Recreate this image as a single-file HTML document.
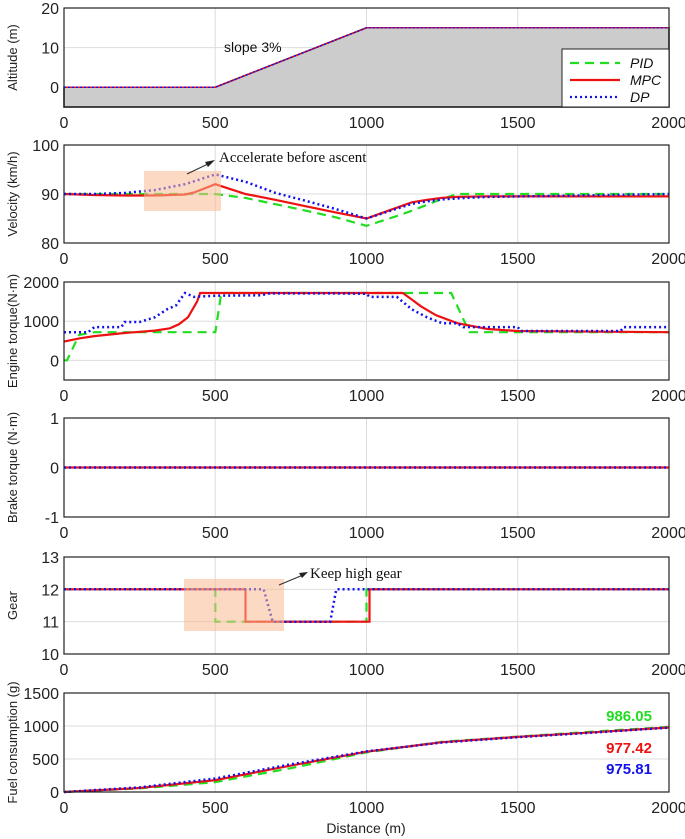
<!DOCTYPE html>
<html><head><meta charset="utf-8"><style>
body{margin:0;background:#fff}
svg{display:block}
text{font-family:"Liberation Sans",sans-serif}
</style></head><body>
<svg id="c" width="685" height="839" xmlns="http://www.w3.org/2000/svg"></svg>
<script>
const xTicks=[0,500,1000,1500,2000];
const altX=[0,500,1000,2000]; const altY=[0,0,15,15];
const velX=[0,100,200,300,400,430,500,600,700,800,900,1000,1100,1150,1200,1250,1300,1400,1600,1800,2000];
const velPID=[90,90,90,90,90,90,90,89.2,87.9,86.6,85.2,83.5,85.5,86.6,87.8,89,90,90,90,90,90];
const velMPC=[90,89.8,89.7,89.7,89.9,90.3,92,90,88.8,87.5,86.2,85,87.2,88.3,88.8,89.2,89.4,89.5,89.5,89.5,89.5];
const velDP=[90,90,90.2,90.8,92,92.6,94,92.5,90.2,88.6,86.9,85,87,88,88.5,88.9,89.1,89.4,89.6,89.8,90];
const engPIDx=[0,10,50,100,500,520,1280,1340,2000];
const engPIDy=[0,0,650,720,720,1720,1720,720,720];
const engMPCx=[0,50,100,200,300,350,380,410,440,450,1120,1150,1180,1230,1300,1400,1500,2000];
const engMPCy=[480,560,620,700,760,820,920,1100,1500,1720,1720,1550,1380,1150,950,800,750,720];
const engDPx=[0,80,100,190,200,250,300,340,370,400,430,500,650,680,900,1000,1010,1100,1150,1200,1250,1300,1320,1500,1510,1840,1850,2000];
const engDPy=[720,720,850,850,980,980,1100,1300,1400,1720,1620,1650,1660,1710,1710,1700,1620,1620,1300,1100,950,950,850,850,750,750,850,850];
const brkX=[0,2000]; const brkY=[0,0];
const gearPIDx=[0,500,500,1000,1000,2000]; const gearPIDy=[12,12,11,11,12,12];
const gearMPCx=[0,600,600,1010,1010,2000]; const gearMPCy=[12,12,11,11,12,12];
const gearDPx=[0,660,690,880,900,2000]; const gearDPy=[12,12,11,11,12,12];
const fuelX=[0,250,500,750,1000,1250,1500,1750,2000];
const fuelPID=[0,55,150,360,600,760,840,915,986];
const fuelMPC=[0,60,180,400,610,755,835,905,977];
const fuelDP=[0,70,205,420,615,750,830,900,976];
const fuelLabels=["986.05","977.42","975.81"];

const svg=document.getElementById('c');const NS='http://www.w3.org/2000/svg';
function el(t,a,p){const e=document.createElementNS(NS,t);for(const k in a)e.setAttribute(k,a[k]);(p||svg).appendChild(e);return e;}
const X0=64,X1=669;
const sx=v=>X0+(v/2000)*(X1-X0);
const C={pid:'#22dd22',mpc:'#ee1111',dp:'#1111ee'};
const panels=[
 {n:'altitude',top:8,bot:107,min:-5,max:20,ticks:[0,10,20],label:'Altitude (m)'},
 {n:'velocity',top:145,bot:243,min:80,max:100,ticks:[80,90,100],label:'Velocity (km/h)'},
 {n:'engine-torque',top:282,bot:380,min:-500,max:2000,ticks:[0,1000,2000],label:'Engine torque(N·m)'},
 {n:'brake-torque',top:418,bot:517,min:-1,max:1,ticks:[-1,0,1],label:'Brake torque (N·m)'},
 {n:'gear',top:557,bot:654,min:10,max:13,ticks:[10,11,12,13],label:'Gear'},
 {n:'fuel',top:693,bot:792,min:0,max:1500,ticks:[0,500,1000,1500],label:'Fuel consumption (g)'}];
panels.forEach(p=>{p.sy=v=>p.bot-(v-p.min)/(p.max-p.min)*(p.bot-p.top);});
function line(p,xs,ys,col,dash,w,name){
 const d=xs.map((x,i)=>(i?'L':'M')+sx(x).toFixed(1)+','+p.sy(ys[i]).toFixed(1)).join('');
 const e=el('path',{d:d,fill:'none',stroke:col,'stroke-width':w,'stroke-dasharray':dash||'none'});
 
 
}
panels.forEach(p=>{
 const g=el('g',{});
 
 
 xTicks.forEach(t=>{
  el('line',{x1:sx(t),x2:sx(t),y1:p.top,y2:p.bot,stroke:'#dddddd','stroke-width':1},g);
  const tx=el('text',{x:sx(t),y:p.bot+21,'font-size':16,'text-anchor':'middle',fill:'#222'},g);tx.textContent=t;
  
  
 });
 p.ticks.forEach(t=>{
  el('line',{x1:X0,x2:X1,y1:p.sy(t),y2:p.sy(t),stroke:'#dddddd','stroke-width':1},g);
  const tx=el('text',{x:X0-5,y:p.sy(t)+6,'font-size':16,'text-anchor':'end',fill:'#222'},g);tx.textContent=t;
  
  
 });
 const yl=el('text',{x:0,y:0,'font-size':13,'text-anchor':'middle',fill:'#222',transform:`translate(17,${(p.top+p.bot)/2}) rotate(-90)`},g);
 yl.textContent=p.label;
 
 
 p.g=g;
});
// altitude
let P=panels[0];
let dA='M'+sx(0)+','+P.sy(-5)+altX.map((x,i)=>'L'+sx(x)+','+P.sy(altY[i])).join('')+'L'+sx(2000)+','+P.sy(-5)+'Z';
const ar=el('path',{d:dA,fill:'#cccccc',stroke:'#111','stroke-width':1.5});


line(P,altX,altY,C.mpc,'',1.5,'altitude-mpc');
line(P,altX,altY,C.dp,'2,2',1.5,'altitude-dp');
let t=el('text',{x:224,y:52,'font-size':14,fill:'#111'});t.textContent='slope 3%';

// velocity
P=panels[1];
line(P,velX,velPID,C.pid,'9,6',2.2,'velocity-pid');
line(P,velX,velMPC,C.mpc,'',2.2,'velocity-mpc');
line(P,velX,velDP,C.dp,'2,3',2.5,'velocity-dp');
const r1=el('rect',{x:144,y:171,width:77,height:40,fill:'#f9b98f',opacity:0.55});

el('line',{x1:187,y1:174,x2:210,y2:163,stroke:'#333','stroke-width':1.2});
el('path',{d:'M215,160 L205,162 L208,167 Z',fill:'#222'});
t=el('text',{x:219,y:162,'font-size':15,fill:'#111',style:'font-family:"Liberation Serif",serif'});t.textContent='Accelerate before ascent';

// engine
P=panels[2];
line(P,engPIDx,engPIDy,C.pid,'9,6',2.2,'engine-pid');
line(P,engMPCx,engMPCy,C.mpc,'',2.2,'engine-mpc');
line(P,engDPx,engDPy,C.dp,'2,3',2.5,'engine-dp');
// brake
P=panels[3];
line(P,brkX,brkY,C.mpc,'',2.2,'brake-mpc');
line(P,brkX,brkY,C.dp,'2,3',2.5,'brake-dp');
// gear
P=panels[4];
line(P,gearPIDx,gearPIDy,C.pid,'9,6',2.2,'gear-pid');
line(P,gearMPCx,gearMPCy,C.mpc,'',2.2,'gear-mpc');
line(P,gearDPx,gearDPy,C.dp,'2,3',2.5,'gear-dp');
const r2=el('rect',{x:184,y:579,width:100,height:52,fill:'#f9b98f',opacity:0.55});

el('line',{x1:279,y1:585,x2:303,y2:575,stroke:'#333','stroke-width':1.2});
el('path',{d:'M308,572 L299,573 L302,578 Z',fill:'#222'});
t=el('text',{x:310,y:578,'font-size':15,fill:'#111',style:'font-family:"Liberation Serif",serif'});t.textContent='Keep high gear';

// fuel
P=panels[5];
line(P,fuelX,fuelPID,C.pid,'9,6',2.2,'fuel-pid');
line(P,fuelX,fuelMPC,C.mpc,'',2.2,'fuel-mpc');
line(P,fuelX,fuelDP,C.dp,'2,3',2.5,'fuel-dp');
[[C.pid,721],[C.mpc,753],[C.dp,774]].forEach((c,i)=>{
 const tx=el('text',{x:652,y:c[1],'font-size':15,'font-weight':'bold','text-anchor':'end',fill:c[0]});tx.textContent=fuelLabels[i];
 
});
t=el('text',{x:366,y:833,'font-size':14,'text-anchor':'middle',fill:'#222'});t.textContent='Distance (m)';

// frames
panels.forEach(p=>el('rect',{x:X0,y:p.top,width:X1-X0,height:p.bot-p.top,fill:'none',stroke:'#222','stroke-width':1.2}));
// legend
const lg=el('g',{});

el('rect',{x:562,y:49,width:107,height:58,fill:'#fff',stroke:'#222','stroke-width':1},lg);
[['PID',C.pid,'9,6'],['MPC',C.mpc,''],['DP',C.dp,'2,3']].forEach((s,i)=>{
 const y=63+i*17;
 el('line',{x1:570,x2:620,y1:y,y2:y,stroke:s[1],'stroke-width':2.2,'stroke-dasharray':s[2]||'none'},lg);
 const tx=el('text',{x:630,y:y+5,'font-size':14,'font-style':'italic',fill:'#111'},lg);tx.textContent=s[0];
 
});
</script>
</body></html>
